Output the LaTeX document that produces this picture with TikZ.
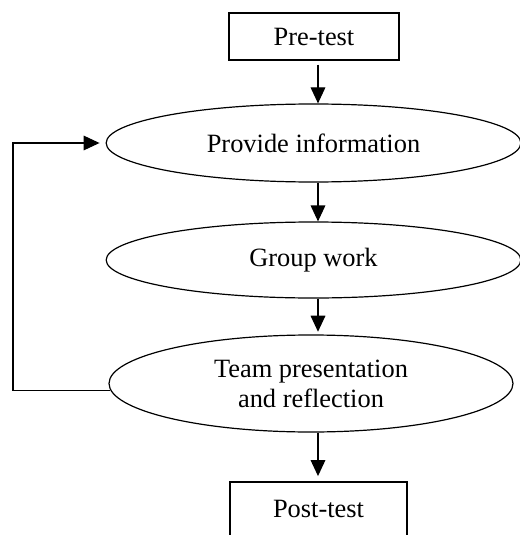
\documentclass[tikz,border=0pt]{standalone}
\usepackage{fontspec}
\setmainfont{Liberation Serif}
\usetikzlibrary{shapes.geometric,arrows.meta}

\tikzset{every picture/.style={line width=0.9pt}}
\tikzset{
  box/.style={draw, rectangle, inner sep=0pt},
  oval/.style={draw, ellipse, inner sep=0pt, align=center},
  flow/.style={-{Triangle[length=12pt,width=11pt]}}
}

\begin{document}
\begin{tikzpicture}[x=0.75pt,y=0.75pt,yscale=-1,xscale=1,font=\fontsize{19.8}{22.5}\selectfont]
\useasboundingbox (0,0) rectangle (520,535);

%Shape: Rectangle [id:pre]
\node (pre) at (314,36.5) [box, minimum width=127.5pt, minimum height=35.25pt] {Pre-test};
%Shape: Ellipse [id:info]
\node (info) at (313.5,143) [oval, minimum width=311pt, minimum height=58.5pt] {Provide information};
%Shape: Ellipse [id:group]
\node (group) at (313.5,260) [oval, minimum width=311pt, minimum height=57pt] {Group work};
%Shape: Ellipse [id:team]
\node (team) at (311,383.5) [oval, minimum width=303pt, minimum height=72.75pt] {Team presentation\\and reflection};
%Shape: Rectangle [id:post]
\node (post) at (318.5,510) [box, minimum width=132.75pt, minimum height=42pt] {\raisebox{2pt}{Post-test}};

\coordinate (axis) at (318,0);
\coordinate (back) at (13,260);

%Straight Lines
\draw [flow, shorten <=3pt] (pre.south -| axis) -- (info.north -| axis);
\draw [flow] (info.south -| axis) -- (group.north -| axis);
\draw [flow] (group.south -| axis) -- ([yshift=-2pt]team.north -| axis);
\draw [flow, shorten >=4pt] (team.south -| axis) -- (post.north -| axis);
%Feedback line
\draw [flow, shorten >=4.5pt] (team.182) -| (back) |- (info.west);

\end{tikzpicture}
\end{document}
